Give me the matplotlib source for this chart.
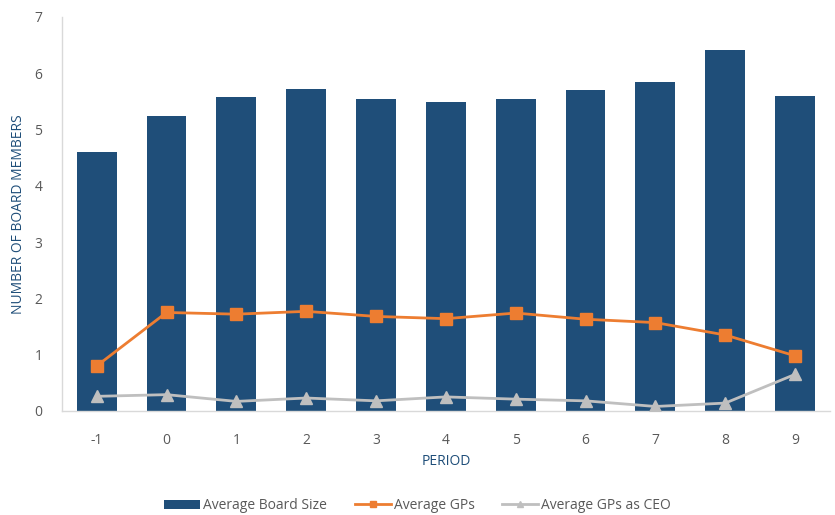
import matplotlib
matplotlib.use('Agg')
import matplotlib.pyplot as plt
import numpy as np

# data
periods = ['-1', '0', '1', '2', '3', '4', '5', '6', '7', '8', '9']
board_size = [4.60, 5.24, 5.57, 5.72, 5.54, 5.49, 5.54, 5.71, 5.84, 6.41, 5.59]
avg_gps = [0.80, 1.75, 1.72, 1.77, 1.68, 1.64, 1.74, 1.63, 1.57, 1.35, 0.98]
avg_gps_ceo = [0.26, 0.29, 0.17, 0.23, 0.18, 0.25, 0.21, 0.18, 0.08, 0.14, 0.65]

blue = '#1F4E79'
orange = '#ED7D31'
grey = '#BFBFBF'
txt = '#595959'

plt.rcParams['font.family'] = ['Open Sans', 'DejaVu Sans']

fig = plt.figure(figsize=(8.35, 5.15), dpi=100)
ax = fig.add_axes([0.074, 0.202, 0.920, 0.765])

x = np.arange(len(periods))
bars = ax.bar(x, board_size, width=0.57, color=blue, label='Average Board Size', zorder=1)
l1, = ax.plot(x, avg_gps, color=orange, lw=2.0, marker='s', ms=8, label='Average GPs', zorder=3)
l2, = ax.plot(x, avg_gps_ceo, color=grey, lw=2.0, marker='^', ms=8, label='Average GPs as CEO', zorder=3)

ax.set_xlim(-0.5, len(periods) - 0.5)
ax.set_ylim(0, 7)
ax.set_xticks(x)
ax.set_xticklabels(periods)
ax.set_yticks(range(0, 8))

for s in ['top', 'right']:
    ax.spines[s].set_visible(False)
for s in ['left', 'bottom']:
    ax.spines[s].set_color('#D9D9D9')
    ax.spines[s].set_linewidth(1)
ax.tick_params(axis='both', length=0, colors=txt, labelsize=10)
ax.tick_params(axis='x', pad=16)
ax.tick_params(axis='y', pad=14)

ax.set_xlabel('PERIOD', color=blue, fontsize=10, labelpad=4)
ax.set_ylabel('NUMBER OF BOARD MEMBERS', color=blue, fontsize=10, labelpad=6)

fig.legend(handles=[bars, l1, l2], loc='center', bbox_to_anchor=(0.50, 0.018),
           ncol=3, frameon=False, fontsize=10, labelcolor=txt,
           handlelength=2.6, handletextpad=0.2, columnspacing=2.0, markerscale=0.6)

fig.savefig('out.png', dpi=100)
